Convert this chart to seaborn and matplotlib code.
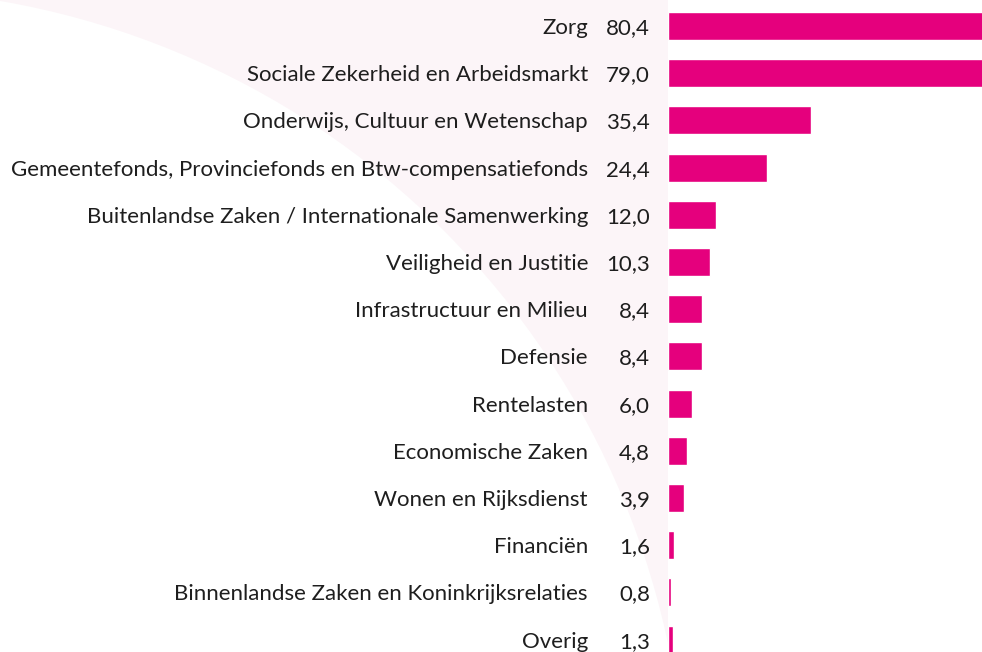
import matplotlib
matplotlib.use("Agg")
import matplotlib.pyplot as plt
import matplotlib.patches as mpatches
import seaborn as sns
import pandas as pd

categories = [
    "Zorg",
    "Sociale Zekerheid en Arbeidsmarkt",
    "Onderwijs, Cultuur en Wetenschap",
    "Gemeentefonds, Provinciefonds en Btw-compensatiefonds",
    "Buitenlandse Zaken / Internationale Samenwerking",
    "Veiligheid en Justitie",
    "Infrastructuur en Milieu",
    "Defensie",
    "Rentelasten",
    "Economische Zaken",
    "Wonen en Rijksdienst",
    "Financiën",
    "Binnenlandse Zaken en Koninkrijksrelaties",
    "Overig",
]
values = [80.4, 79.0, 35.4, 24.4, 12.0, 10.3, 8.4, 8.4, 6.0, 4.8, 3.9, 1.6, 0.8, 1.3]
value_labels = ["80,4", "79,0", "35,4", "24,4", "12,0", "10,3", "8,4", "8,4",
                "6,0", "4,8", "3,9", "1,6", "0,8", "1,3"]

BAR = "#e5007d"
PINK = "#fcf5f8"
TEXT = "#1e1e1e"

sns.set_theme(style="white")
plt.rcParams["font.family"] = ["Lato", "DejaVu Sans"]

W, H = 982, 652
fig = plt.figure(figsize=(W / 100, H / 100), dpi=100)
fig.patch.set_facecolor("white")

# background decoration in pixel coordinates
bg = fig.add_axes([0, 0, 1, 1], zorder=0)
bg.set_xlim(0, W)
bg.set_ylim(H, 0)
bg.axis("off")
bg.add_patch(mpatches.Rectangle((0, 0), 668, H, facecolor=PINK, edgecolor="none"))
bg.add_patch(mpatches.Circle((-140, 815), 826, facecolor="white", edgecolor="none"))

x0 = 668 / W
ax = fig.add_axes([x0, 0, 1 - x0, 1], zorder=1)
ax.set_facecolor("none")

df = pd.DataFrame({"cat": categories, "val": values})
sns.barplot(data=df, x="val", y="cat", orient="h", color=BAR, saturation=1,
            width=0.593, ax=ax)

ax.set_xlim(0, 314 / 4.04)
top = -26 / 47.2
ax.set_ylim(13 + (652 - 26 - 13 * 47.2) / 47.2, top)
ax.axis("off")

for i, (c, lab) in enumerate(zip(categories, value_labels)):
    ax.annotate(c, xy=(0, i), xytext=(-80, -2), textcoords="offset pixels",
                ha="right", va="center", fontsize=16, color=TEXT,
                annotation_clip=False)
    ax.annotate(lab, xy=(0, i), xytext=(-18, -2), textcoords="offset pixels",
                ha="right", va="center", fontsize=16, color=TEXT,
                annotation_clip=False)

fig.savefig("out.png", dpi=100)
